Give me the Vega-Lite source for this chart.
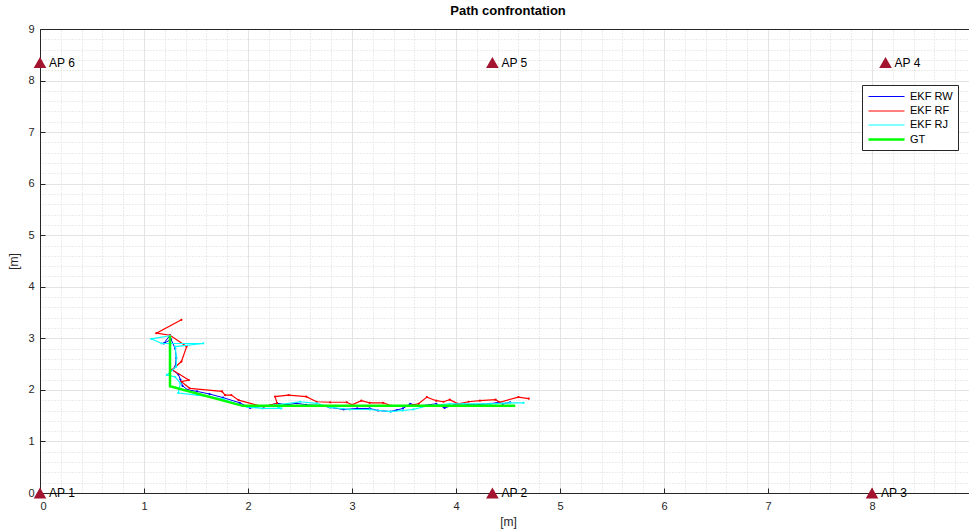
{
  "$schema": "https://vega.github.io/schema/vega-lite/v6.json",
  "autosize": "none",
  "width": 936,
  "height": 464,
  "padding": {"left": 40, "top": 29, "right": 0, "bottom": 39},
  "background": "white",
  "config": {
    "font": "Liberation Sans",
    "view": {"stroke": null},
    "axis": {"labelFont": "Liberation Sans", "titleFont": "Liberation Sans", "labelColor": "#262626", "titleColor": "#262626", "labelFontSize": 11, "titleFontSize": 12, "titleFontWeight": "normal", "domainColor": "#262626", "tickColor": "#262626"}
  },
  "title": {"text": "Path confrontation", "fontSize": 13, "fontWeight": "bold", "font": "Liberation Sans", "color": "#000000", "offset": 5, "anchor": "middle"},
  "datasets": {
    "ap": [
      {"x": 0, "y": 0, "label": "AP 1"},
      {"x": 4.35, "y": 0, "label": "AP 2"},
      {"x": 8, "y": 0, "label": "AP 3"},
      {"x": 8.13, "y": 8.35, "label": "AP 4"},
      {"x": 4.35, "y": 8.35, "label": "AP 5"},
      {"x": 0, "y": 8.35, "label": "AP 6"}
    ],
    "path": [
      {"s": "EKF RW", "i": 0, "x": 1.25, "y": 3.06},
      {"s": "EKF RW", "i": 1, "x": 1.19, "y": 2.90},
      {"s": "EKF RW", "i": 2, "x": 1.26, "y": 2.98},
      {"s": "EKF RW", "i": 3, "x": 1.30, "y": 2.80},
      {"s": "EKF RW", "i": 4, "x": 1.31, "y": 2.62},
      {"s": "EKF RW", "i": 5, "x": 1.30, "y": 2.45},
      {"s": "EKF RW", "i": 6, "x": 1.27, "y": 2.39},
      {"s": "EKF RW", "i": 7, "x": 1.33, "y": 2.30},
      {"s": "EKF RW", "i": 8, "x": 1.35, "y": 2.20},
      {"s": "EKF RW", "i": 9, "x": 1.37, "y": 2.08},
      {"s": "EKF RW", "i": 10, "x": 1.42, "y": 2.00},
      {"s": "EKF RW", "i": 11, "x": 1.51, "y": 1.97},
      {"s": "EKF RW", "i": 12, "x": 1.63, "y": 1.92},
      {"s": "EKF RW", "i": 13, "x": 1.76, "y": 1.85},
      {"s": "EKF RW", "i": 14, "x": 1.92, "y": 1.75},
      {"s": "EKF RW", "i": 15, "x": 2.02, "y": 1.65},
      {"s": "EKF RW", "i": 16, "x": 2.18, "y": 1.69},
      {"s": "EKF RW", "i": 17, "x": 2.28, "y": 1.74},
      {"s": "EKF RW", "i": 18, "x": 2.37, "y": 1.71},
      {"s": "EKF RW", "i": 19, "x": 2.47, "y": 1.74},
      {"s": "EKF RW", "i": 20, "x": 2.56, "y": 1.71},
      {"s": "EKF RW", "i": 21, "x": 2.69, "y": 1.70},
      {"s": "EKF RW", "i": 22, "x": 2.79, "y": 1.66},
      {"s": "EKF RW", "i": 23, "x": 2.92, "y": 1.62},
      {"s": "EKF RW", "i": 24, "x": 3.05, "y": 1.64},
      {"s": "EKF RW", "i": 25, "x": 3.17, "y": 1.64},
      {"s": "EKF RW", "i": 26, "x": 3.25, "y": 1.60},
      {"s": "EKF RW", "i": 27, "x": 3.37, "y": 1.58},
      {"s": "EKF RW", "i": 28, "x": 3.43, "y": 1.61},
      {"s": "EKF RW", "i": 29, "x": 3.49, "y": 1.64},
      {"s": "EKF RW", "i": 30, "x": 3.56, "y": 1.73},
      {"s": "EKF RW", "i": 31, "x": 3.65, "y": 1.69},
      {"s": "EKF RW", "i": 32, "x": 3.81, "y": 1.73},
      {"s": "EKF RW", "i": 33, "x": 3.89, "y": 1.65},
      {"s": "EKF RW", "i": 34, "x": 4.01, "y": 1.73},
      {"s": "EKF RW", "i": 35, "x": 4.17, "y": 1.71},
      {"s": "EKF RW", "i": 36, "x": 4.33, "y": 1.73},
      {"s": "EKF RW", "i": 37, "x": 4.41, "y": 1.76},
      {"s": "EKF RW", "i": 38, "x": 4.45, "y": 1.73},
      {"s": "EKF RW", "i": 39, "x": 4.52, "y": 1.76},
      {"s": "EKF RF", "i": 0, "x": 1.36, "y": 3.36},
      {"s": "EKF RF", "i": 1, "x": 1.12, "y": 3.10},
      {"s": "EKF RF", "i": 2, "x": 1.25, "y": 3.06},
      {"s": "EKF RF", "i": 3, "x": 1.41, "y": 2.84},
      {"s": "EKF RF", "i": 4, "x": 1.36, "y": 2.55},
      {"s": "EKF RF", "i": 5, "x": 1.27, "y": 2.39},
      {"s": "EKF RF", "i": 6, "x": 1.43, "y": 2.19},
      {"s": "EKF RF", "i": 7, "x": 1.36, "y": 2.16},
      {"s": "EKF RF", "i": 8, "x": 1.44, "y": 2.03},
      {"s": "EKF RF", "i": 9, "x": 1.75, "y": 1.97},
      {"s": "EKF RF", "i": 10, "x": 1.78, "y": 1.90},
      {"s": "EKF RF", "i": 11, "x": 1.84, "y": 1.90},
      {"s": "EKF RF", "i": 12, "x": 1.91, "y": 1.80},
      {"s": "EKF RF", "i": 13, "x": 2.15, "y": 1.67},
      {"s": "EKF RF", "i": 14, "x": 2.28, "y": 1.74},
      {"s": "EKF RF", "i": 15, "x": 2.26, "y": 1.87},
      {"s": "EKF RF", "i": 16, "x": 2.39, "y": 1.90},
      {"s": "EKF RF", "i": 17, "x": 2.56, "y": 1.87},
      {"s": "EKF RF", "i": 18, "x": 2.66, "y": 1.77},
      {"s": "EKF RF", "i": 19, "x": 2.79, "y": 1.76},
      {"s": "EKF RF", "i": 20, "x": 2.95, "y": 1.76},
      {"s": "EKF RF", "i": 21, "x": 3.00, "y": 1.71},
      {"s": "EKF RF", "i": 22, "x": 3.09, "y": 1.79},
      {"s": "EKF RF", "i": 23, "x": 3.17, "y": 1.75},
      {"s": "EKF RF", "i": 24, "x": 3.30, "y": 1.75},
      {"s": "EKF RF", "i": 25, "x": 3.38, "y": 1.69},
      {"s": "EKF RF", "i": 26, "x": 3.53, "y": 1.69},
      {"s": "EKF RF", "i": 27, "x": 3.64, "y": 1.73},
      {"s": "EKF RF", "i": 28, "x": 3.72, "y": 1.86},
      {"s": "EKF RF", "i": 29, "x": 3.81, "y": 1.79},
      {"s": "EKF RF", "i": 30, "x": 3.88, "y": 1.77},
      {"s": "EKF RF", "i": 31, "x": 3.94, "y": 1.81},
      {"s": "EKF RF", "i": 32, "x": 4.02, "y": 1.73},
      {"s": "EKF RF", "i": 33, "x": 4.12, "y": 1.77},
      {"s": "EKF RF", "i": 34, "x": 4.23, "y": 1.79},
      {"s": "EKF RF", "i": 35, "x": 4.38, "y": 1.81},
      {"s": "EKF RF", "i": 36, "x": 4.42, "y": 1.76},
      {"s": "EKF RF", "i": 37, "x": 4.60, "y": 1.86},
      {"s": "EKF RF", "i": 38, "x": 4.70, "y": 1.83},
      {"s": "EKF RJ", "i": 0, "x": 1.25, "y": 3.05},
      {"s": "EKF RJ", "i": 1, "x": 1.07, "y": 2.99},
      {"s": "EKF RJ", "i": 2, "x": 1.17, "y": 2.90},
      {"s": "EKF RJ", "i": 3, "x": 1.57, "y": 2.90},
      {"s": "EKF RJ", "i": 4, "x": 1.30, "y": 2.84},
      {"s": "EKF RJ", "i": 5, "x": 1.31, "y": 2.65},
      {"s": "EKF RJ", "i": 6, "x": 1.31, "y": 2.45},
      {"s": "EKF RJ", "i": 7, "x": 1.22, "y": 2.29},
      {"s": "EKF RJ", "i": 8, "x": 1.30, "y": 2.25},
      {"s": "EKF RJ", "i": 9, "x": 1.35, "y": 2.13},
      {"s": "EKF RJ", "i": 10, "x": 1.33, "y": 1.94},
      {"s": "EKF RJ", "i": 11, "x": 1.51, "y": 1.90},
      {"s": "EKF RJ", "i": 12, "x": 1.63, "y": 1.87},
      {"s": "EKF RJ", "i": 13, "x": 1.76, "y": 1.82},
      {"s": "EKF RJ", "i": 14, "x": 1.87, "y": 1.74},
      {"s": "EKF RJ", "i": 15, "x": 1.99, "y": 1.67},
      {"s": "EKF RJ", "i": 16, "x": 2.14, "y": 1.64},
      {"s": "EKF RJ", "i": 17, "x": 2.32, "y": 1.64},
      {"s": "EKF RJ", "i": 18, "x": 2.25, "y": 1.70},
      {"s": "EKF RJ", "i": 19, "x": 2.50, "y": 1.77},
      {"s": "EKF RJ", "i": 20, "x": 2.66, "y": 1.74},
      {"s": "EKF RJ", "i": 21, "x": 2.79, "y": 1.66},
      {"s": "EKF RJ", "i": 22, "x": 2.98, "y": 1.62},
      {"s": "EKF RJ", "i": 23, "x": 3.17, "y": 1.62},
      {"s": "EKF RJ", "i": 24, "x": 3.37, "y": 1.58},
      {"s": "EKF RJ", "i": 25, "x": 3.49, "y": 1.60},
      {"s": "EKF RJ", "i": 26, "x": 3.59, "y": 1.62},
      {"s": "EKF RJ", "i": 27, "x": 3.72, "y": 1.69},
      {"s": "EKF RJ", "i": 28, "x": 3.94, "y": 1.73},
      {"s": "EKF RJ", "i": 29, "x": 4.07, "y": 1.73},
      {"s": "EKF RJ", "i": 30, "x": 4.33, "y": 1.73},
      {"s": "EKF RJ", "i": 31, "x": 4.52, "y": 1.75},
      {"s": "EKF RJ", "i": 32, "x": 4.65, "y": 1.75},
      {"s": "GT", "i": 0, "x": 1.25, "y": 3.05},
      {"s": "GT", "i": 1, "x": 1.25, "y": 2.07},
      {"s": "GT", "i": 2, "x": 1.95, "y": 1.69},
      {"s": "GT", "i": 3, "x": 4.57, "y": 1.69}
    ]
  },
  "layer": [
    {
      "data": {"name": "ap"},
      "mark": {"type": "point", "opacity": 0},
      "encoding": {
        "x": {"field": "x", "type": "quantitative", "scale": {"domain": [0, 9], "nice": false, "zero": false},
          "axis": {"orient": "top", "values": [0.2,0.4,0.6,0.8,1.2,1.4,1.6,1.8,2.2,2.4,2.6,2.8,3.2,3.4,3.6,3.8,4.2,4.4,4.6,4.8,5.2,5.4,5.6,5.8,6.2,6.4,6.6,6.8,7.2,7.4,7.6,7.8,8.2,8.4,8.6,8.8], "grid": true, "gridColor": "#d9d9d9", "gridDash": [1, 2], "gridWidth": 1, "ticks": false, "labels": false, "domain": true, "title": null}},
        "y": {"field": "y", "type": "quantitative", "scale": {"domain": [0, 9], "nice": false, "zero": false},
          "axis": {"orient": "right", "values": [0.2,0.4,0.6,0.8,1.2,1.4,1.6,1.8,2.2,2.4,2.6,2.8,3.2,3.4,3.6,3.8,4.2,4.4,4.6,4.8,5.2,5.4,5.6,5.8,6.2,6.4,6.6,6.8,7.2,7.4,7.6,7.8,8.2,8.4,8.6,8.8], "grid": true, "gridColor": "#d9d9d9", "gridDash": [1, 2], "gridWidth": 1, "ticks": false, "labels": false, "domain": false, "title": null}}
      }
    },
    {
      "data": {"name": "ap"},
      "mark": {"type": "point", "opacity": 0},
      "encoding": {
        "x": {"field": "x", "type": "quantitative",
          "axis": {"orient": "bottom", "values": [0,1,2,3,4,5,6,7,8], "grid": true, "gridColor": "#e3e3e3", "tickSize": -5, "labelPadding": 12, "title": "[m]", "titlePadding": 5}},
        "y": {"field": "y", "type": "quantitative",
          "axis": {"orient": "left", "values": [0,1,2,3,4,5,6,7,8,9], "grid": true, "gridColor": "#e3e3e3", "tickSize": -5, "labelPadding": 11, "title": "[m]", "titlePadding": 7}}
      }
    },
    {
      "data": {"name": "path"},
      "transform": [{"filter": "datum.s === 'EKF RW'"}],
      "mark": {"type": "line", "point": {"filled": true, "size": 5}},
      "encoding": {
        "x": {"field": "x", "type": "quantitative", "axis": null},
        "y": {"field": "y", "type": "quantitative", "axis": null},
        "order": {"field": "i"},
        "color": {"field": "s", "type": "nominal", "scale": {"domain": ["EKF RW", "EKF RF", "EKF RJ", "GT"], "range": ["#0000ff", "#ff0000", "#00ffff", "#00ff00"]},
          "legend": {"orient": "none", "legendX": 822, "legendY": 56, "title": null, "symbolType": "M-1,0H5", "symbolSize": 144, "symbolOffset": 0, "labelFontSize": 11, "labelColor": "#000000", "labelFont": "Liberation Sans", "strokeColor": "#262626", "fillColor": "white", "padding": 5, "rowPadding": 2, "labelOffset": 28}},
        "strokeWidth": {"field": "s", "type": "ordinal", "scale": {"type": "ordinal", "domain": ["EKF RW", "EKF RF", "EKF RJ", "GT"], "range": [1, 1.2, 1.2, 2.5]}}
      }
    },
    {
      "data": {"name": "path"},
      "transform": [{"filter": "datum.s === 'EKF RF'"}],
      "mark": {"type": "line", "point": {"filled": true, "size": 5}},
      "encoding": {
        "x": {"field": "x", "type": "quantitative", "axis": null},
        "y": {"field": "y", "type": "quantitative", "axis": null},
        "order": {"field": "i"},
        "color": {"field": "s", "type": "nominal"},
        "strokeWidth": {"field": "s", "type": "ordinal", "scale": {"type": "ordinal"}}
      }
    },
    {
      "data": {"name": "path"},
      "transform": [{"filter": "datum.s === 'EKF RJ'"}],
      "mark": {"type": "line", "point": {"filled": true, "size": 5}},
      "encoding": {
        "x": {"field": "x", "type": "quantitative", "axis": null},
        "y": {"field": "y", "type": "quantitative", "axis": null},
        "order": {"field": "i"},
        "color": {"field": "s", "type": "nominal"},
        "strokeWidth": {"field": "s", "type": "ordinal", "scale": {"type": "ordinal"}}
      }
    },
    {
      "data": {"name": "path"},
      "transform": [{"filter": "datum.s === 'GT'"}],
      "mark": {"type": "line"},
      "encoding": {
        "x": {"field": "x", "type": "quantitative", "axis": null},
        "y": {"field": "y", "type": "quantitative", "axis": null},
        "order": {"field": "i"},
        "color": {"field": "s", "type": "nominal"},
        "strokeWidth": {"field": "s", "type": "ordinal", "scale": {"type": "ordinal"}}
      }
    },
    {
      "data": {"name": "ap"},
      "mark": {"type": "point", "shape": "triangle-up", "filled": true, "color": "#a2142f", "opacity": 1, "size": 160},
      "encoding": {
        "x": {"field": "x", "type": "quantitative", "axis": null},
        "y": {"field": "y", "type": "quantitative", "axis": null}
      }
    },
    {
      "data": {"name": "ap"},
      "mark": {"type": "text", "align": "left", "baseline": "middle", "dx": 9, "fontSize": 12, "font": "Liberation Sans", "color": "#000000"},
      "encoding": {
        "x": {"field": "x", "type": "quantitative", "axis": null},
        "y": {"field": "y", "type": "quantitative", "axis": null},
        "text": {"field": "label"}
      }
    }
  ],
  "resolve": {"axis": {"x": "independent", "y": "independent"}}
}
